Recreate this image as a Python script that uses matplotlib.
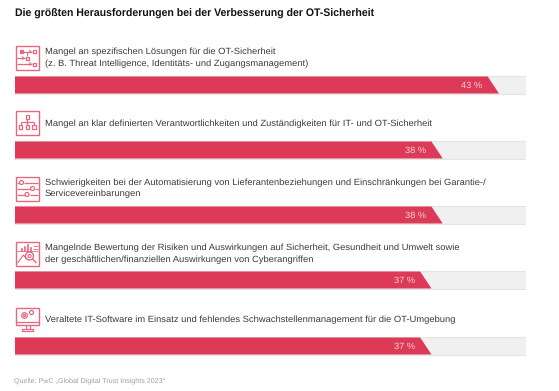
import matplotlib
matplotlib.use("Agg")
import matplotlib.pyplot as plt
from matplotlib.patches import Rectangle, Circle

plt.rcParams['font.family'] = ['Liberation Sans', 'DejaVu Sans']
plt.rcParams['text.hinting'] = 'no_hinting'

title = "Die größten Herausforderungen bei der Verbesserung der OT-Sicherheit"
source = "Quelle: PwC „Global Digital Trust Insights 2023“"
labels = [
    ["Mangel an spezifischen Lösungen für die OT-Sicherheit",
     "(z. B. Threat Intelligence, Identitäts- und Zugangsmanagement)"],
    ["Mangel an klar definierten Verantwortlichkeiten und Zuständigkeiten für IT- und OT-Sicherheit"],
    ["Schwierigkeiten bei der Automatisierung von Lieferantenbeziehungen und Einschränkungen bei Garantie-/",
     "Servicevereinbarungen"],
    ["Mangelnde Bewertung der Risiken und Auswirkungen auf Sicherheit, Gesundheit und Umwelt sowie",
     "der geschäftlichen/finanziellen Auswirkungen von Cyberangriffen"],
    ["Veraltete IT-Software im Einsatz und fehlendes Schwachstellenmanagement für die OT-Umgebung"],
]
values = [43, 38, 38, 37, 37]

W, H = 559, 391
RED = "#dc3a56"
ICON = "#e8677f"
TEXT = "#3a3a3a"
bar_centers = [85, 150, 215, 280, 346]
text_centers = [58, 123.5, 188.5, 254, 319.5]
icon_tops = [46, 111, 177, 242, 307.5]
XMAX = 45.4
SLANT = 1.0
BAR_H = 17.0
FS = 6.72

fig = plt.figure(figsize=(W / 100, H / 100), dpi=100, facecolor="white")

ov = fig.add_axes([0, 0, 1, 1])
ov.set_xlim(0, W)
ov.set_ylim(H, 0)
ov.axis("off")

ax = fig.add_axes([15 / W, 0, (526 - 15) / W, 1])
ax.set_xlim(0, XMAX)
ax.set_ylim(H, 0)
ax.axis("off")
ax.patch.set_alpha(0)

for y, v in zip(bar_centers, values):
    ax.barh(y, XMAX, height=BAR_H + 1, color="#f0f0f0", edgecolor="#e4e4e4", linewidth=0.8)
    t, b = y - BAR_H / 2, y + BAR_H / 2
    ax.fill([0, v - SLANT, v, 0], [t, t, b, b], color=RED, lw=0)
    ax.text(v - 2.43, y + 0.3, f"{v} %", color="#f6d3da", fontsize=6.7, ha="center", va="center")

ov.text(15, 14.3, title, fontsize=7.57, fontweight="bold", color="#111111", va="center", ha="left")
ov.text(14, 381, source, fontsize=5.1, color="#a0a0a0", va="center", ha="left")

for tc, lines in zip(text_centers, labels):
    if len(lines) == 1:
        ov.text(44.8, tc, lines[0], fontsize=FS, color=TEXT, va="center", ha="left")
    else:
        ov.text(44.8, tc - 5.7, lines[0], fontsize=FS, color=TEXT, va="center", ha="left")
        ov.text(44.8, tc + 5.7, lines[1], fontsize=FS, color=TEXT, va="center", ha="left")


def L(x0, y0, xs, ys, lw=0.9):
    ov.plot([x0 + a for a in xs], [y0 + b for b in ys], color=ICON, lw=lw, solid_capstyle="butt")


def R(x0, y0, x, y, w, h, fill=False, lw=0.9):
    ov.add_patch(Rectangle((x0 + x, y0 + y), w, h, fc=ICON if fill else "none", ec=ICON, lw=lw))


def C(x0, y0, x, y, r, lw=0.9):
    ov.add_patch(Circle((x0 + x, y0 + y), r, fc="none", ec=ICON, lw=lw))


def frame(x0, y0):
    R(x0, y0, 0, 0, 23.5, 23.5, lw=1.0)


def icon1(x, y):
    frame(x, y)
    R(x, y, 4, 4, 3, 3, fill=True)
    L(x, y, [7, 16], [5.5, 5.5]); R(x, y, 17, 4, 3, 3)
    L(x, y, [13.5, 15.5, 13.5], [4, 5.5, 7], lw=0.7)
    L(x, y, [11, 11], [5.5, 9.5], lw=0.7)
    L(x, y, [1, 9], [12, 12]); R(x, y, 10, 10.5, 3, 3)
    L(x, y, [6.5, 8.5, 6.5], [10.5, 12, 13.5], lw=0.7)
    L(x, y, [1, 16], [18, 18]); R(x, y, 17, 16.5, 3, 3)
    L(x, y, [13.5, 15.5, 13.5], [16.5, 18, 19.5], lw=0.7)


def icon2(x, y):
    frame(x, y)
    R(x, y, 10, 4, 3.5, 3.5)
    L(x, y, [11.7, 11.7], [7.5, 14])
    L(x, y, [5, 18.5], [11, 11])
    L(x, y, [5, 5], [11, 14]); L(x, y, [18.5, 18.5], [11, 14])
    for a in (3.2, 10, 16.8):
        R(x, y, a, 14, 3.5, 4)


def icon3(x, y):
    frame(x, y)
    C(x, y, 6, 5.5, 2); L(x, y, [8.5, 22], [5.5, 5.5])
    L(x, y, [1.5, 3.5], [5.5, 5.5])
    L(x, y, [1, 14], [11.5, 11.5]); C(x, y, 17, 11.5, 2); L(x, y, [19.5, 22], [11.5, 11.5])
    C(x, y, 11.5, 17.5, 2); L(x, y, [1, 9], [17.5, 17.5]); L(x, y, [14, 22], [17.5, 17.5])


def icon4(x, y):
    frame(x, y)
    for a, h in zip((5, 8, 11, 14), (3, 5, 7, 4)):
        R(x, y, a, 9 - h, 1.5, h, lw=0.6)
    L(x, y, [1, 22], [9, 9], lw=0.6)
    L(x, y, [17, 22], [4, 4], lw=0.6); L(x, y, [17, 22], [6.5, 6.5], lw=0.6)
    L(x, y, [2, 8, 11], [21, 13, 17], lw=0.8)
    C(x, y, 14, 14, 4, lw=1.0)
    C(x, y, 14, 14, 1.5, lw=0.8)
    L(x, y, [17, 21], [17, 21], lw=1.0)


def icon5(x, y):
    R(x, y, 0.5, 0, 23, 17.5, lw=1.0)
    L(x, y, [0.5, 23.5], [14.5, 14.5])
    C(x, y, 9, 8, 2.8); C(x, y, 9, 8, 1)
    C(x, y, 16, 5, 2)
    L(x, y, [10, 10], [17.5, 21]); L(x, y, [14, 14], [17.5, 21])
    R(x, y, 6.5, 21, 11, 2.5)


for fn, top in zip((icon1, icon2, icon3, icon4, icon5), icon_tops):
    fn(15.5, top)

fig.savefig("out.png", dpi=100)
